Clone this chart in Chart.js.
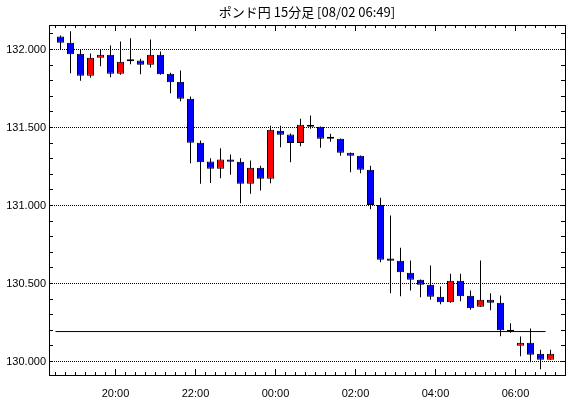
<!DOCTYPE html>
<html>
<head>
<meta charset="utf-8">
<script src="https://cdn.jsdelivr.net/npm/chart.js@4.4.0/dist/chart.umd.min.js"></script>
<style>
  html, body { margin: 0; padding: 0; background: #fff; }
  #wrap { width: 570px; height: 398px; }
</style>
</head>
<body>
<div id="wrap"><canvas id="c" width="570" height="398"></canvas></div>
<script>
const chartTitle = 'ポンド円 15分足 [08/02 06:49]';

// 15 minute candles, start time of each bar
const times = ['18:30', '18:45', '19:00', '19:15', '19:30', '19:45', '20:00', '20:15', '20:30', '20:45',
  '21:00', '21:15', '21:30', '21:45', '22:00', '22:15', '22:30', '22:45', '23:00', '23:15',
  '23:30', '23:45', '00:00', '00:15', '00:30', '00:45', '01:00', '01:15', '01:30', '01:45',
  '02:00', '02:15', '02:30', '02:45', '03:00', '03:15', '03:30', '03:45', '04:00', '04:15',
  '04:30', '04:45', '05:00', '05:15', '05:30', '05:45', '06:00', '06:15', '06:30', '06:45'];
const open = [132.083, 132.043, 131.972, 131.831, 131.947, 131.966, 131.844, 131.928, 131.930, 131.902,
  131.966, 131.844, 131.793, 131.684, 131.402, 131.282, 131.235, 131.295, 131.280, 131.139,
  131.242, 131.171, 131.479, 131.455, 131.400, 131.517, 131.504, 131.428, 131.428, 131.338,
  131.319, 131.229, 131.004, 130.660, 130.646, 130.569, 130.524, 130.492, 130.415, 130.380,
  130.517, 130.421, 130.351, 130.396, 130.376, 130.203, 130.101, 130.120, 130.049, 130.011];
const high = [132.090, 132.117, 132.000, 131.974, 132.000, 132.026, 132.051, 132.072, 131.940, 132.064,
  131.987, 131.851, 131.865, 131.699, 131.417, 131.303, 131.367, 131.327, 131.303, 131.288,
  131.254, 131.511, 131.511, 131.462, 131.556, 131.577, 131.506, 131.460, 131.430, 131.340,
  131.321, 131.254, 131.049, 130.936, 130.729, 130.647, 130.525, 130.615, 130.481, 130.562,
  130.562, 130.455, 130.647, 130.438, 130.423, 130.246, 130.160, 130.212, 130.075, 130.075];
const low = [132.000, 131.848, 131.799, 131.819, 131.893, 131.822, 131.838, 131.906, 131.842, 131.885,
  131.838, 131.720, 131.669, 131.271, 131.139, 131.145, 131.175, 131.197, 131.015, 131.075,
  131.096, 131.143, 131.374, 131.278, 131.380, 131.492, 131.370, 131.408, 131.319, 131.213,
  131.207, 130.976, 130.636, 130.438, 130.419, 130.455, 130.412, 130.396, 130.367, 130.376,
  130.387, 130.331, 130.350, 130.329, 130.162, 130.184, 130.034, 129.996, 129.950, 130.011];
const close = [132.043, 131.970, 131.831, 131.947, 131.966, 131.844, 131.921, 131.925, 131.902, 131.966,
  131.842, 131.790, 131.684, 131.402, 131.278, 131.235, 131.295, 131.280, 131.139, 131.242,
  131.171, 131.485, 131.453, 131.400, 131.517, 131.504, 131.428, 131.428, 131.338, 131.319,
  131.229, 131.004, 130.652, 130.646, 130.572, 130.524, 130.492, 130.415, 130.380, 130.517,
  130.419, 130.342, 130.396, 130.376, 130.201, 130.190, 130.120, 130.043, 130.011, 130.049];

const timeLabels = ['20:00', '22:00', '00:00', '02:00', '04:00', '06:00'];
const priceLabels = [130.0, 130.5, 131.0, 131.5, 132.0];

// horizontal reference level
const refLevel = 130.192;
const refFrom = '18:30';
const refTo = '06:45';

const UP = '#ff0000';
const DOWN = '#0000ff';

// minutes counted from 18:00
function toMin(t) {
  const [h, m] = t.split(':').map(Number);
  return ((h - 18 + 24) % 24) * 60 + m;
}

const X_MIN = 20.25, X_MAX = 794.25;
const Y_MIN = 129.9135, Y_MAX = 132.157;

const mid = times.map(t => toMin(t) + 7.5);
const wicks = mid.map((x, i) => ({ x, y: [low[i], high[i]] }));
const bodies = mid.map((x, i) => ({ x, y: [open[i], close[i]] }));
const bodyColors = open.map((o, i) => close[i] > o ? UP : DOWN);

const frameTicks = {
  id: 'frameTicks',
  afterDraw(chart) {
    const { ctx, chartArea: a, scales } = chart;
    ctx.save();
    ctx.strokeStyle = '#000';
    ctx.lineWidth = 1;
    ctx.beginPath();
    for (let k = 0; k <= 21; k++) {
      const p = scales.y.getPixelForValue(130 + k / 10);
      if (p < a.top || p > a.bottom) continue;
      const y = Math.round(p - 0.5) + 0.5;
      ctx.moveTo(a.left, y); ctx.lineTo(a.left + 4, y);
      ctx.moveTo(a.right, y); ctx.lineTo(a.right - 4, y);
    }
    for (let v = 30; v <= 780; v += 15) {
      const x = Math.round(scales.x.getPixelForValue(v) - 0.5) + 0.5;
      const len = v % 120 === 0 ? 6 : 3;
      ctx.moveTo(x, a.bottom); ctx.lineTo(x, a.bottom - len);
      ctx.moveTo(x, a.top); ctx.lineTo(x, a.top + len);
    }
    ctx.stroke();
    ctx.restore();
  }
};

Chart.defaults.font.family = '"Liberation Sans", Arial, sans-serif';
Chart.defaults.font.size = 11;
Chart.defaults.color = '#000';

new Chart(document.getElementById('c'), {
  type: 'bar',
  data: {
    datasets: [
      {
        type: 'line',
        data: [{ x: toMin(refFrom), y: refLevel }, { x: toMin(refTo), y: refLevel }],
        borderColor: '#000',
        borderWidth: 1,
        pointRadius: 0,
        order: 2
      },
      {
        data: wicks,
        backgroundColor: '#000',
        borderWidth: 0,
        barThickness: 1,
        grouped: false,
        inflateAmount: 0,
        order: 1
      },
      {
        data: bodies,
        backgroundColor: bodyColors,
        borderColor: '#000',
        borderWidth: 1,
        borderSkipped: false,
        barThickness: 7,
        minBarLength: 2,
        grouped: false,
        inflateAmount: 0,
        order: 0
      }
    ]
  },
  options: {
    responsive: false,
    animation: false,
    devicePixelRatio: 1,
    layout: { padding: 0 },
    plugins: {
      legend: { display: false },
      tooltip: { enabled: false },
      title: { display: false }
    },
    scales: {
      x: {
        type: 'linear',
        position: 'bottom',
        min: X_MIN,
        max: X_MAX,
        offset: false,
        grid: { display: false },
        border: { display: true, color: '#000', width: 1 },
        afterBuildTicks: s => { s.ticks = timeLabels.map(t => ({ value: toMin(t) })); },
        ticks: {
          padding: 4,
          maxRotation: 0,
          autoSkip: false,
          callback: v => timeLabels.find(t => toMin(t) === v) || ''
        },
        afterFit: s => { s.height = 23; }
      },
      x2: {
        type: 'linear',
        position: 'top',
        min: X_MIN,
        max: X_MAX,
        offset: false,
        grid: { display: false },
        border: { display: true, color: '#000', width: 1 },
        ticks: { display: false },
        title: {
          display: true,
          text: chartTitle,
          color: '#000',
          font: { family: '"Noto Sans CJK JP", sans-serif', size: 13 },
          padding: { top: 4, bottom: 0 }
        },
        afterFit: s => { s.height = 25; }
      },
      y: {
        type: 'linear',
        position: 'left',
        min: Y_MIN,
        max: Y_MAX,
        grid: { display: true, color: '#000', lineWidth: 1, drawTicks: false },
        border: { display: true, color: '#000', width: 1, dash: [1, 1] },
        afterBuildTicks: s => { s.ticks = priceLabels.map(v => ({ value: v })); },
        ticks: {
          padding: 3,
          callback: v => v.toFixed(3)
        },
        afterFit: s => { s.width = 49; }
      },
      y2: {
        type: 'linear',
        position: 'right',
        min: Y_MIN,
        max: Y_MAX,
        grid: { display: false },
        border: { display: true, color: '#000', width: 1 },
        ticks: { display: false },
        afterFit: s => { s.width = 5; }
      }
    }
  },
  plugins: [frameTicks]
});
</script>
</body>
</html>
